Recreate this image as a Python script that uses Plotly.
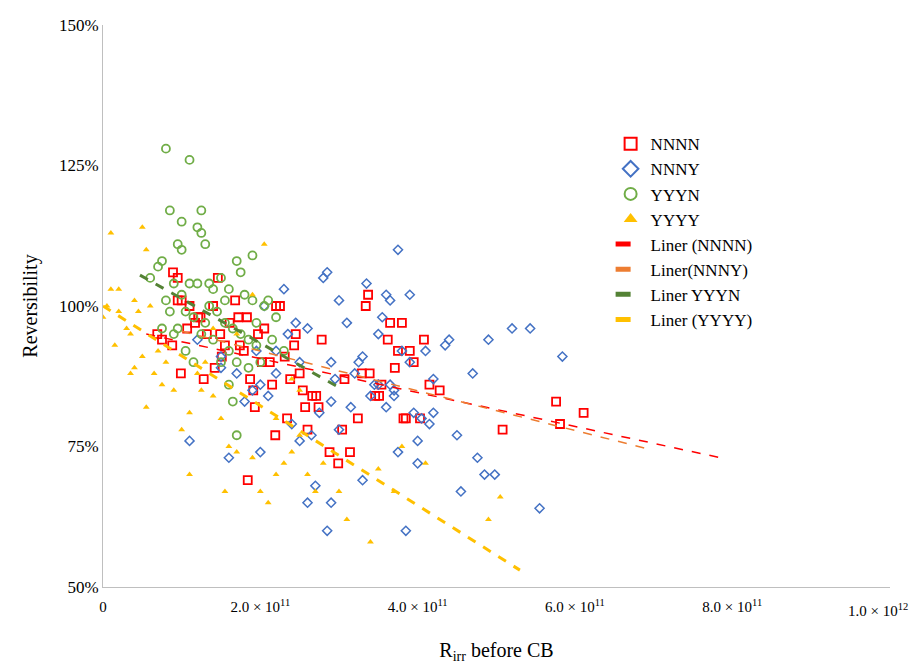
import plotly.graph_objects as go

# x in units of 1e11, y in percent
nnnn_x = [0.89,0.95,1.0,0.88,0.99,0.95,1.1,1.17,1.21,1.24,1.32,1.40,1.46,1.49,1.51,1.55,1.61,1.68,1.72,1.74,1.79,1.83,1.87,1.91,1.93,1.84,1.97,2.02,2.05,2.12,2.15,2.2,2.25,2.31,2.38,2.43,2.45,2.5,2.54,2.57,2.6,2.66,2.71,2.74,2.78,2.88,2.99,3.04,3.14,3.24,3.29,3.39,3.46,3.51,3.54,3.62,3.65,3.71,3.75,3.8,3.82,3.85,3.9,3.95,4.03,4.08,4.15,4.28,5.08,5.76,5.81,6.11,1.07,0.69,0.75,1.28,1.42,2.19,2.34,3.07,3.34,3.37]
nnnn_y = [106,105,101,93,88,101,100,97,98,98,95,100,105,95,91,93,97,101,98,93,92,98,87,85,82,69,95,90,96,90,86,100,100,91,87,93,95,88,85,82,78,84,84,82,94,74,72,78,74,80,88,88,84,84,86,94,97,89,92,97,80,80,92,90,80,94,86,85,78,83,79,81,96,95,94,87,89,77,80,87,100,102]

nnny_x = [1.1,1.2,1.5,1.6,1.7,1.8,1.9,2.0,2.05,2.1,2.2,2.3,2.35,2.4,2.45,2.5,2.5,2.6,2.65,2.7,2.75,2.8,2.85,2.9,2.95,3.0,3.0,2.85,2.9,3.1,3.15,3.2,3.25,3.3,3.35,3.4,3.45,3.5,3.55,3.6,3.6,3.65,3.7,3.75,3.8,3.85,3.9,3.95,4.0,4.0,4.05,3.75,4.1,4.15,4.2,4.9,3.65,3.9,4.35,4.4,4.5,4.55,4.2,4.7,4.76,4.85,4.98,5.2,5.43,5.55,5.84,3.3,3.5,2.9,3.7,1.95,2.2,2.6,2.0,1.5]
nnny_y = [76,94,91,73,88,83,85,74,100,84,92,103,95,79,97,90,76,65,77,68,81,105,106,90,87,101,78,60,65,97,82,88,90,91,104,84,86,95,98,102,82,86,85,74,92,60,90,81,76,72,80,110,92,79,81,94,101,102,93,94,77,67,87,88,73,70,70,96,96,64,91,69,86,83,84,92,88,96,86,89]

yyyn_x = [0.8,1.1,0.85,1.0,1.25,1.2,1.25,1.3,0.95,1.0,0.7,0.75,1.9,1.7,1.75,1.5,0.6,0.9,1.1,1.2,1.35,1.4,1.6,1.8,1.9,2.1,2.05,2.2,1.0,0.8,0.85,1.05,1.15,1.3,1.45,1.55,1.65,1.75,1.85,1.95,2.15,0.95,1.25,1.4,1.6,1.7,1.85,2.0,1.05,1.15,1.5,1.6,1.65,1.7,2.3,0.75,1.35,1.55,1.95,0.9]
yyyn_y = [128,126,117,115,117,114,113,111,111,110,107,108,109,108,106,105,105,104,104,104,104,103,103,102,101,101,100,98,102,101,99,99,98,97,99,97,96,95,94,93,94,96,95,94,92,90,89,90,92,90,90,86,83,77,92,96,100,101,97,95]

yyyy_x = [0.1,0.5,0.55,0.1,0.2,0.4,0.45,0.6,0.3,0.35,0.15,0.2,0.0,0.05,0.4,0.5,0.7,0.65,0.8,0.35,1.1,1.0,0.55,1.1,1.25,1.4,1.5,1.6,1.7,1.9,2.0,2.1,1.55,2.2,2.3,2.4,2.5,2.4,2.2,2.6,2.7,2.8,3.0,3.1,3.4,3.5,3.8,4.1,2.05,1.9,1.7,1.4,1.3,1.2,0.9,0.75,4.9,5.05,3.7,2.5]
yyyy_y = [113,114,110,103,103,101,99,100,96,95,93,99,98,100,89,91,92,88,90,88,81,78,82,70,85,84,80,75,74,73,67,65,67,70,72,74,85,87,80,70,67,72,67,62,58,71,75,72,111,102,95,96,90,88,85,86,62,66,67,77]

# trend line end points
tr_nnnn_x = [0.55, 7.85]; tr_nnnn_y = [95, 73]
tr_nnny_x = [1.0, 6.95]; tr_nnny_y = [95.5, 74.5]
tr_yyyn_x = [0.47, 3.0]; tr_yyyn_y = [105.5, 85.5]
tr_yyyy_x = [0.0, 5.3]; tr_yyyy_y = [100, 53]

def X(v): return [a*1e11 for a in v]
def Y(v): return [a/100 for a in v]

fig = go.Figure()
fig.add_trace(go.Scatter(x=X(nnnn_x), y=Y(nnnn_y), mode="markers", name="NNNN",
    marker=dict(symbol="square-open", color="#ff0000", size=8, line=dict(width=1.8))))
fig.add_trace(go.Scatter(x=X(nnny_x), y=Y(nnny_y), mode="markers", name="NNNY",
    marker=dict(symbol="diamond-open", color="#4472c4", size=7, line=dict(width=1.5))))
fig.add_trace(go.Scatter(x=X(yyyn_x), y=Y(yyyn_y), mode="markers", name="YYYN",
    marker=dict(symbol="circle-open", color="#70ad47", size=8, line=dict(width=1.8))))
fig.add_trace(go.Scatter(x=X(yyyy_x), y=Y(yyyy_y), mode="markers", name="YYYY",
    marker=dict(symbol="triangle-up", color="#ffc000", size=6)))
fig.add_trace(go.Scatter(x=X(tr_nnnn_x), y=Y(tr_nnnn_y), mode="lines", name="Liner (NNNN)",
    line=dict(color="#ff0000", dash="dash", width=1.5)))
fig.add_trace(go.Scatter(x=X(tr_nnny_x), y=Y(tr_nnny_y), mode="lines", name="Liner(NNNY)",
    line=dict(color="#ed7d31", dash="dash", width=1.5)))
fig.add_trace(go.Scatter(x=X(tr_yyyn_x), y=Y(tr_yyyn_y), mode="lines", name="Liner YYYN",
    line=dict(color="#548235", dash="dash", width=3)))
fig.add_trace(go.Scatter(x=X(tr_yyyy_x), y=Y(tr_yyyy_y), mode="lines", name="Liner (YYYY)",
    line=dict(color="#ffc000", dash="dash", width=3)))

xticks = [0, 2e11, 4e11, 6e11, 8e11]
xlabels = ["0", "2.0 × 10<sup>11</sup>", "4.0 × 10<sup>11</sup>",
           "6.0 × 10<sup>11</sup>", "8.0 × 10<sup>11</sup>"]
last_tick = 1e12
last_label = "1.0 × 10<sup>12</sup>"
serif = "Liberation Serif"

fig.add_annotation(x=last_tick, xref="x", y=0, yref="paper", yanchor="top", xanchor="center",
                   xshift=-12, yshift=-12, text=last_label, showarrow=False,
                   font=dict(family=serif, size=15, color="black"))

fig.update_layout(
    width=919, height=669, paper_bgcolor="white", plot_bgcolor="white",
    margin=dict(l=95, r=37, t=17, b=90),
    font=dict(family=serif, size=17, color="black"),
    legend=dict(x=0.645, y=0.82, xanchor="left", yanchor="top", bgcolor="rgba(0,0,0,0)",
                font=dict(family=serif, size=17), tracegroupgap=0, itemsizing="constant"),
    xaxis=dict(range=[0, 1.0005e12], tickvals=xticks, ticktext=xlabels, showgrid=False, zeroline=False,
               showline=True, linecolor="#bfbfbf", ticks="outside", ticklen=6, tickcolor="white",
               tickfont=dict(family=serif, size=15),
               automargin=False, title=dict(text="R<sub>irr</sub> before CB", standoff=28)),
    yaxis=dict(range=[0.5, 1.5], tickvals=[0.5, 0.75, 1.0, 1.25, 1.5], tickformat=".0%", showgrid=False,
               tickfont=dict(family=serif, size=17),
               automargin=False, zeroline=False, showline=True, linecolor="#bfbfbf", ticks="",
               title=dict(text="Reversibility")),
)
fig.write_html("out.html")
